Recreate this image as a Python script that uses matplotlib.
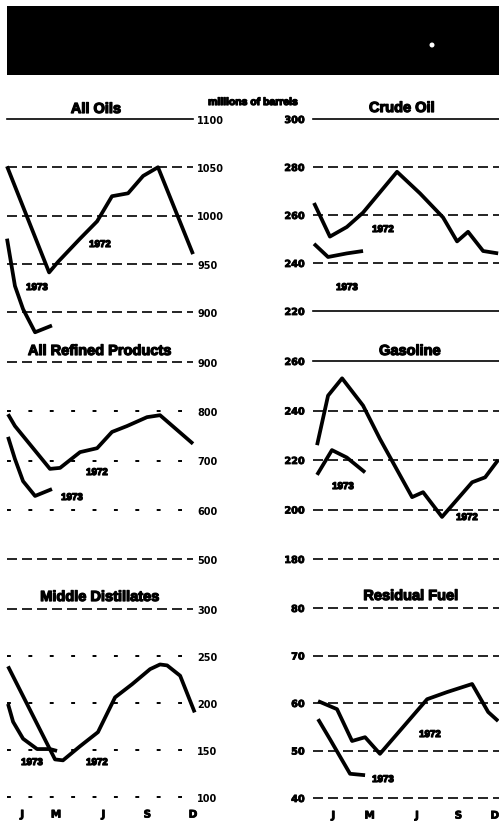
import matplotlib
matplotlib.use("Agg")
import matplotlib.pyplot as plt
import matplotlib.patheffects as pe
from matplotlib.patches import Rectangle, Ellipse

W, H = 499, 829

# Month axis (0 = January ... 11 = December)
month_labels = ["J", "M", "J", "S", "D"]
month_ticks_left = [0.9, 2.9, 5.7, 8.3, 11.0]
month_ticks_right = [1.2, 3.35, 6.15, 8.6, 10.75]

# All Oils (millions of barrels)
oils_1972_month = [0.0, 2.49, 3.02, 4.32, 5.33, 6.21, 7.16, 8.05, 8.93, 11.0]
oils_1972 = [1051, 941, 952, 976, 994, 1020, 1023, 1041, 1050, 960]
oils_1973_month = [0.0, 0.47, 0.95, 1.66, 2.66]
oils_1973 = [976, 927, 903, 879, 886]
oils_ticks = [900, 950, 1000, 1050, 1100]

# All Refined Products
refined_1972_month = [0.06, 0.47, 2.54, 3.14, 4.32, 5.33, 6.21, 7.1, 8.28, 9.05, 11.0]
refined_1972 = [794, 770, 683, 685, 717, 725, 758, 770, 788, 792, 734]
refined_1973_month = [0.06, 0.47, 0.95, 1.66, 2.66]
refined_1973 = [748, 703, 658, 628, 642]
refined_ticks = [500, 600, 700, 800, 900]

# Middle Distillates
middle_1972_month = [0.06, 2.84, 3.31, 4.32, 5.38, 6.39, 7.4, 8.46, 9.05, 9.47, 10.24, 11.1]
middle_1972 = [239, 140, 139, 154, 169, 206, 220, 236, 241, 240, 229, 190]
middle_1973_month = [0.06, 0.36, 0.95, 1.78, 2.54, 2.96]
middle_1973 = [199, 180, 162, 151, 151, 149]
middle_ticks = [100, 150, 200, 250, 300]

# Crude Oil
crude_1972_month = [0.06, 1.0, 2.0, 2.96, 4.97, 6.33, 7.69, 8.52, 9.17, 10.06, 10.95]
crude_1972 = [265, 251, 255, 261, 278, 269, 259, 249, 253, 245, 244]
crude_1973_month = [0.06, 0.89, 2.0, 2.96]
crude_1973 = [248, 242.5, 244, 245]
crude_ticks = [220, 240, 260, 280, 300]

# Gasoline
gasoline_1972_month = [0.24, 0.89, 1.72, 2.96, 3.96, 5.86, 6.51, 7.63, 8.52, 9.41, 10.18, 10.95]
gasoline_1972 = [226, 246, 253, 242, 228.5, 205, 207, 197, 204, 211, 213, 220]
gasoline_1973_month = [0.24, 1.12, 2.0, 3.08]
gasoline_1973 = [214, 224, 221, 215]
gasoline_ticks = [180, 200, 220, 240, 260]

# Residual Fuel
residual_1972_month = [0.3, 1.42, 2.31, 3.08, 3.96, 6.75, 7.93, 9.41, 10.36, 10.95]
residual_1972 = [60.4, 58.7, 52.0, 52.8, 49.3, 60.8, 62.3, 64.0, 58.1, 56.2]
residual_1973_month = [0.3, 1.0, 2.19, 3.08]
residual_1973 = [56.6, 52.4, 45.1, 44.8]
residual_ticks = [40, 50, 60, 70, 80]

TITLE_FONT = "Liberation Sans"
NUM_FONT = "DejaVu Sans"
HEAVY = [pe.withStroke(linewidth=0.9, foreground="black")]

DASH = (0, (6, 3))
DOTS = (0, (2, 9))
SOLID = "-"

fig = plt.figure(figsize=(W / 100, H / 100), dpi=100)
fig.patch.set_facecolor("white")


def px_axes(x0, x1, ytop, ybot):
    return fig.add_axes([x0 / W, 1 - ybot / H, (x1 - x0) / W, (ybot - ytop) / H])


def ftext(x, y, s, size, family=TITLE_FONT, ha="center", va="center"):
    fig.text(x / W, 1 - y / H, s, fontsize=size, fontweight="bold",
             family=family, ha=ha, va=va, color="black", path_effects=HEAVY)


def panel(rect, ticks, styles, series, side, xticks=None):
    ax = px_axes(*rect)
    ax.set_xlim(0, 11)
    ax.set_ylim(ticks[0], ticks[-1])
    ax.patch.set_alpha(0)
    for s in ax.spines.values():
        s.set_visible(False)
    for t, ls in zip(ticks, styles):
        ax.axhline(t, color="black", lw=1.2 if ls != DOTS else 1.4,
                   linestyle=ls, clip_on=False)
    for xm, yv in series:
        ax.plot(xm, yv, color="black", lw=2.7, clip_on=False,
                solid_joinstyle="round", solid_capstyle="butt")
    ax.set_yticks(ticks)
    ax.set_yticklabels([str(t) for t in ticks], family=NUM_FONT,
                       fontweight="bold", fontsize=7)
    for lab in ax.get_yticklabels():
        lab.set_path_effects([pe.withStroke(linewidth=0.6, foreground="black")])
    if side == "right":
        ax.yaxis.tick_right()
        ax.tick_params(axis="y", length=0, pad=3)
    else:
        ax.yaxis.tick_left()
        ax.tick_params(axis="y", length=0, pad=6)
    if xticks is not None:
        ax.set_xticks(xticks)
        ax.set_xticklabels(month_labels, family=NUM_FONT, fontweight="bold",
                           fontsize=7.5)
        for lab in ax.get_xticklabels():
            lab.set_path_effects([pe.withStroke(linewidth=0.6, foreground="black")])
        ax.tick_params(axis="x", length=0, pad=9)
    else:
        ax.set_xticks([])
    return ax


# Left column
panel((7, 193, 120, 313), oils_ticks, [DASH, DASH, DASH, DASH, SOLID],
      [(oils_1972_month, oils_1972), (oils_1973_month, oils_1973)], "right")
panel((7, 193, 363, 560), refined_ticks, [DASH, DOTS, DOTS, DOTS, DASH],
      [(refined_1972_month, refined_1972), (refined_1973_month, refined_1973)], "right")
panel((7, 193, 610, 798), middle_ticks, [DOTS, DOTS, DOTS, DOTS, DASH],
      [(middle_1972_month, middle_1972), (middle_1973_month, middle_1973)], "right",
      xticks=month_ticks_left)

# Right column
panel((313, 499, 120, 312), crude_ticks, [SOLID, DASH, DASH, DASH, SOLID],
      [(crude_1972_month, crude_1972), (crude_1973_month, crude_1973)], "left")
panel((313, 499, 362, 560), gasoline_ticks, [DASH, DASH, DASH, DASH, SOLID],
      [(gasoline_1972_month, gasoline_1972), (gasoline_1973_month, gasoline_1973)], "left")
panel((313, 499, 609, 799), residual_ticks, [DASH, DASH, DASH, DASH, DASH],
      [(residual_1972_month, residual_1972), (residual_1973_month, residual_1973)], "left",
      xticks=month_ticks_right)

# Header band
fig.patches.append(Rectangle((7 / W, 1 - 76 / H), (W - 7) / W, 69 / H,
                             transform=fig.transFigure, facecolor="black",
                             edgecolor="none", zorder=0))
fig.patches.append(Ellipse((432 / W, 1 - 46 / H), 5 / W, 5 / H,
                           transform=fig.transFigure, facecolor="white",
                           edgecolor="none", zorder=1))

# Titles
ftext(96, 110, "All Oils", 10.5)
ftext(253, 103, "millions of barrels", 7.5)
ftext(402, 109, "Crude Oil", 10.5)
ftext(100, 352, "All Refined Products", 10.5)
ftext(410, 352, "Gasoline", 10.5)
ftext(100, 598, "Middle Distillates", 10.5)
ftext(411, 597, "Residual Fuel", 10.5)

# Year labels
for x, y, s in [(100, 245, "1972"), (37, 288, "1973"),
                (97, 473, "1972"), (72, 498, "1973"),
                (32, 763, "1973"), (97, 763, "1972"),
                (383, 230, "1972"), (347, 288, "1973"),
                (343, 487, "1973"), (467, 518, "1972"),
                (430, 735, "1972"), (383, 780, "1973")]:
    ftext(x, y, s, 7)

fig.savefig("out.png", dpi=100)
